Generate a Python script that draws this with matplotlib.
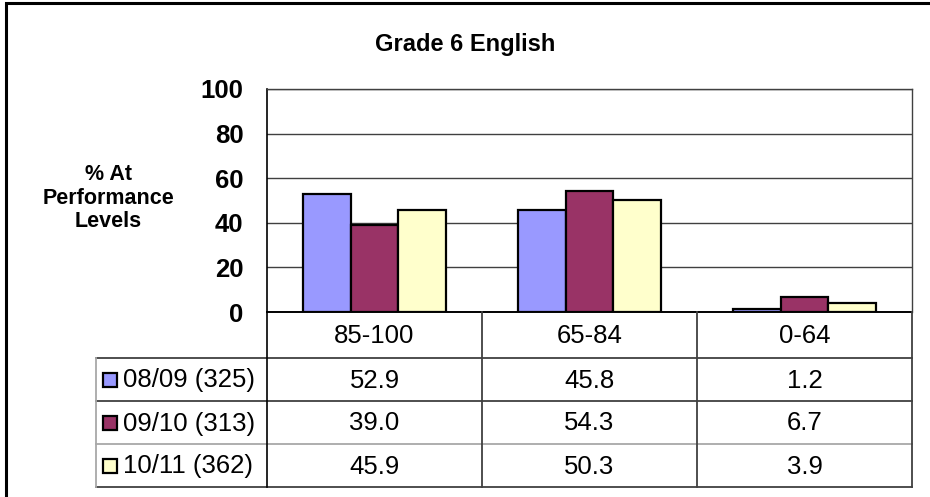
import matplotlib
matplotlib.use("Agg")
import matplotlib.pyplot as plt
from matplotlib.patches import Rectangle

plt.rcParams['font.family'] = ['Liberation Sans', 'DejaVu Sans']

# data
categories = ["85-100", "65-84", "0-64"]
series_names = ["08/09 (325)", "09/10 (313)", "10/11 (362)"]
vals_0809 = [52.9, 45.8, 1.2]
vals_0910 = [39.0, 54.3, 6.7]
vals_1011 = [45.9, 50.3, 3.9]
colors = ["#9999FF", "#993366", "#FFFFCC"]
yticks = [0, 20, 40, 60, 80, 100]

series = [vals_0809, vals_0910, vals_1011]
W, H = 930, 497


def fx(px):
    return px / W


def fy(py):
    return 1 - py / H


fig = plt.figure(figsize=(9.3, 4.97), dpi=100)

# outer chart frame (right/bottom edges fall outside the image)
fig.patches.append(Rectangle((fx(6), fy(520)), fx(960) - fx(6), fy(3) - fy(520),
                             transform=fig.transFigure, fill=False,
                             edgecolor="black", linewidth=2.2))

fig.text(0.5, fy(44), "Grade 6 English", ha="center", va="center",
         fontsize=17, fontweight="bold")
fig.text(fx(108), fy(198), "% At\nPerformance\nLevels", ha="center", va="center",
         multialignment="center", fontsize=15.5, fontweight="bold", linespacing=1.15)

# bar plot area
ax = fig.add_axes([fx(267), fy(312), fx(912) - fx(267), fy(89) - fy(312)])
n = len(categories)
bw = 1 / (len(series) + 1.5)
for j, vals in enumerate(series):
    xs = [i + 0.5 + (j - 1) * bw for i in range(n)]
    ax.bar(xs, vals, width=bw, color=colors[j], edgecolor="black",
           linewidth=1.6, zorder=3)
ax.set_xlim(0, n)
ax.set_ylim(0, 100)
ax.set_yticks(yticks)
ax.set_yticklabels([str(t) for t in yticks], fontsize=18.5, fontweight="bold")
ax.tick_params(axis="y", length=0, pad=17)
ax.set_xticks([])
ax.yaxis.grid(True, color="#404040", linewidth=1)
ax.set_axisbelow(True)
for s in ["top", "right"]:
    ax.spines[s].set_color("#404040")
    ax.spines[s].set_linewidth(1)
ax.spines["left"].set_linewidth(1.2)
ax.spines["bottom"].set_linewidth(1.2)

# data table below the plot
leg_w = (267 - 96) / 215
tax = fig.add_axes([fx(96), fy(487), fx(912) - fx(96), fy(312) - fy(487)])
tax.set_xlim(-leg_w, n)
tax.set_ylim(175, 0)
tax.axis("off")
rows = [0, 46, 89, 132, 175]
dark = "#404040"
light = "#A8A8A8"

# horizontal lines
tax.plot([0, n], [rows[0], rows[0]], color="black", lw=1.2, clip_on=False)
for k in range(1, len(rows)):
    c = light if k == 3 else dark
    tax.plot([-leg_w, n], [rows[k], rows[k]], color=c, lw=1.3, clip_on=False)
# vertical lines
tax.plot([-leg_w, -leg_w], [rows[1], rows[-1]], color=light, lw=1.3, clip_on=False)
tax.plot([0, 0], [rows[0], rows[-1]], color="black", lw=1.2, clip_on=False)
for i in range(1, n + 1):
    tax.plot([i, i], [rows[0], rows[-1]], color=dark, lw=1.3, clip_on=False)

for i, cat in enumerate(categories):
    tax.text(i + 0.5, (rows[0] + rows[1]) / 2 + 1, cat, ha="center", va="center",
             fontsize=18.5)

key = 14
for j, (name, vals) in enumerate(zip(series_names, series)):
    yc = (rows[j + 1] + rows[j + 2]) / 2
    tax.add_patch(Rectangle((-leg_w + 7 / 215, yc - key / 2), key / 215, key,
                            facecolor=colors[j], edgecolor="black", lw=1.6,
                            clip_on=False))
    tax.text(-leg_w + 27 / 215, yc + 1, name, ha="left", va="center", fontsize=18.5)
    for i, v in enumerate(vals):
        tax.text(i + 0.5, yc + 1, f"{v:.1f}", ha="center", va="center", fontsize=18.5)

fig.savefig("out.png", dpi=100)
